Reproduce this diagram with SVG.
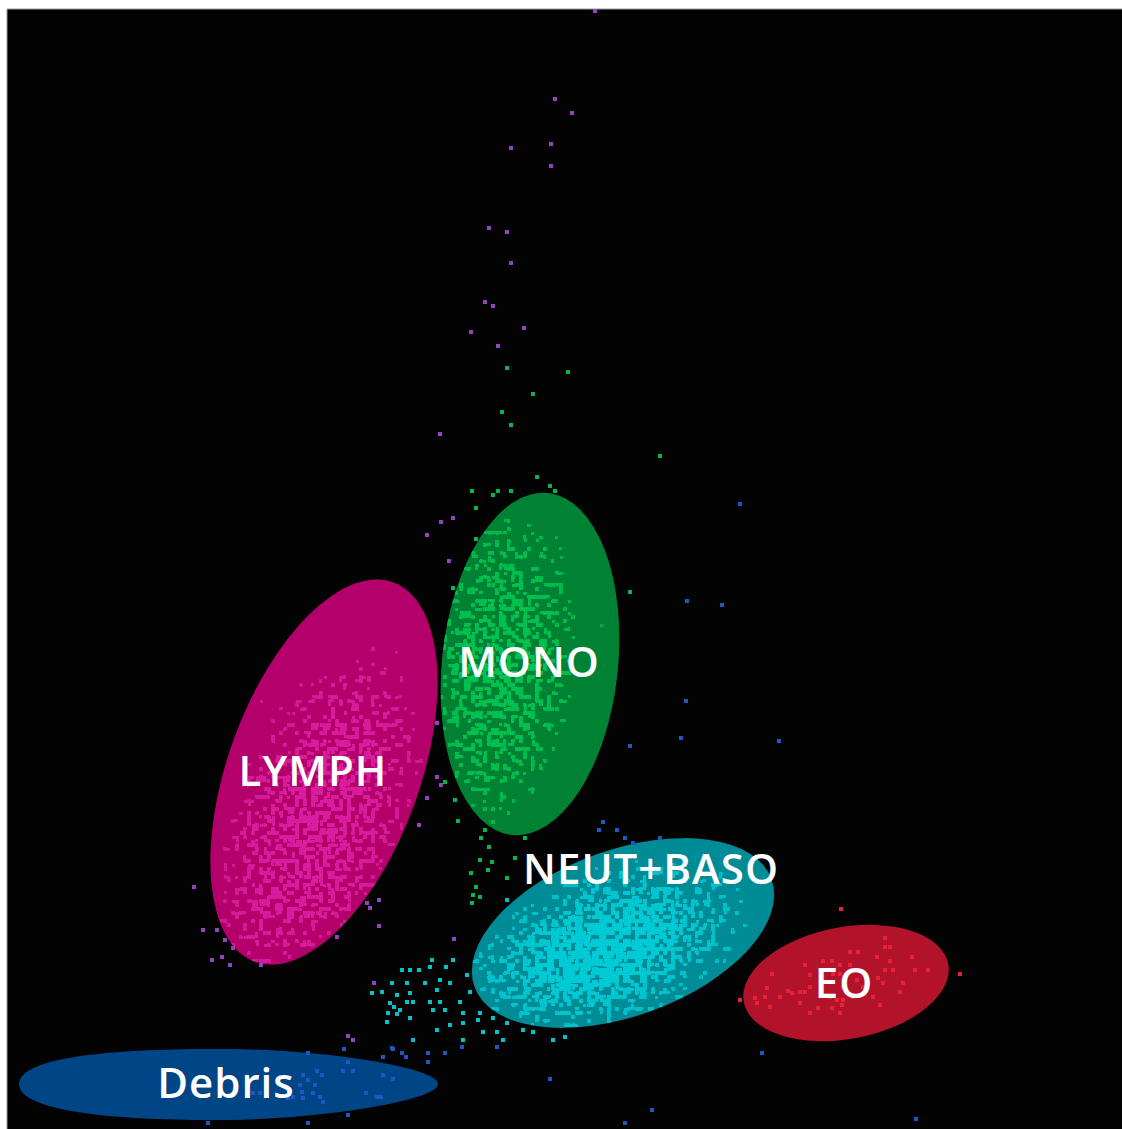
<svg xmlns="http://www.w3.org/2000/svg" width="1122" height="1129" viewBox="0 0 1122 1129">
<defs>
<style>
.lbl{font-family:"Open Sans","Noto Sans","Liberation Sans",sans-serif;font-weight:600;font-size:42px;fill:#ffffff;text-anchor:middle;letter-spacing:1px}
</style>
<filter id="spk" filterUnits="userSpaceOnUse" primitiveUnits="userSpaceOnUse" x="0" y="0" width="1122" height="1129" color-interpolation-filters="sRGB">
<feTurbulence type="fractalNoise" baseFrequency="0.17" numOctaves="1" seed="5" result="noise"/>
<feColorMatrix in="noise" type="matrix" values="0 0 0 0 0  0 0 0 0 0  0 0 0 0 0  1 0 0 0 0" result="nr"/>
<feComposite in="nr" in2="SourceAlpha" operator="arithmetic" k1="0" k2="5" k3="6" k4="-7.5" result="m"/>
<feComponentTransfer in="m" result="mask"><feFuncA type="discrete" tableValues="0 1"/></feComponentTransfer>
<feFlood flood-color="#000" flood-opacity="1" x="0" y="0" width="2" height="2" result="d"/>
<feOffset in="d" dx="0" dy="0" x="0" y="0" width="4" height="4" result="t"/>
<feTile in="t" x="0" y="0" width="1122" height="1129" result="grid"/>
<feComposite in="mask" in2="grid" operator="in" result="samp"/>
<feMorphology in="samp" operator="dilate" radius="1" result="blk"/>
<feColorMatrix in="SourceGraphic" type="matrix" values="1 0 0 0 0  0 1 0 0 0  0 0 1 0 0  0 0 0 0 1" result="solid"/>
<feComposite in="solid" in2="blk" operator="in" result="dots"/>
<feComposite in="dots" in2="SourceAlpha" operator="in"/>
</filter>
<radialGradient id="gL" cx="0.56" cy="0.62" r="0.52">
<stop offset="0" stop-color="#dc1fa3" stop-opacity="0.94"/>
<stop offset="0.45" stop-color="#dc1fa3" stop-opacity="0.89"/>
<stop offset="0.75" stop-color="#dc1fa3" stop-opacity="0.81"/>
<stop offset="1" stop-color="#dc1fa3" stop-opacity="0.66"/>
</radialGradient>
<radialGradient id="gM" cx="0.34" cy="0.52" r="0.5">
<stop offset="0" stop-color="#00c853" stop-opacity="0.92"/>
<stop offset="0.5" stop-color="#00c853" stop-opacity="0.88"/>
<stop offset="0.8" stop-color="#00c853" stop-opacity="0.8"/>
<stop offset="1" stop-color="#00c853" stop-opacity="0.66"/>
</radialGradient>
<radialGradient id="gN" cx="0.43" cy="0.55" r="0.5">
<stop offset="0" stop-color="#00ccd6" stop-opacity="1"/>
<stop offset="0.35" stop-color="#00ccd6" stop-opacity="0.97"/>
<stop offset="0.65" stop-color="#00ccd6" stop-opacity="0.88"/>
<stop offset="0.9" stop-color="#00ccd6" stop-opacity="0.79"/>
<stop offset="1" stop-color="#00ccd6" stop-opacity="0.66"/>
</radialGradient>
</defs>
<rect x="0" y="0" width="1122" height="1129" fill="#ffffff"/>
<rect x="7" y="9" width="1115" height="1120" fill="#030303"/>
<path d="M7,1129 V9 H1122" fill="none" stroke="#9a9a9a" stroke-width="1"/>

<g id="debris">
<path d="M19,1084 C19,1056 120,1048 230,1049 C330,1050 438,1068 438,1084 C438,1100 330,1118 230,1120 C120,1121 19,1112 19,1084 Z" fill="#004585"/>
</g>
<g id="lymph">
<ellipse cx="0" cy="0" rx="96" ry="202" transform="translate(324,772) rotate(20)" fill="#b4006b"/>
<g filter="url(#spk)"><ellipse cx="0" cy="0" rx="96" ry="202" transform="translate(324,772) rotate(20)" fill="url(#gL)"/></g>
</g>
<g id="mono">
<ellipse cx="0" cy="0" rx="88" ry="172" transform="translate(530,664) rotate(6)" fill="#008234"/>
<g filter="url(#spk)"><ellipse cx="0" cy="0" rx="88" ry="172" transform="translate(530,664) rotate(6)" fill="url(#gM)"/></g>
</g>
<g id="neutbaso">
<ellipse cx="0" cy="0" rx="158" ry="83" transform="translate(623,933) rotate(-20)" fill="#008c96"/>
<g filter="url(#spk)"><ellipse cx="0" cy="0" rx="158" ry="83" transform="translate(623,933) rotate(-20)" fill="url(#gN)"/></g>
</g>
<g id="eo">
<ellipse cx="0" cy="0" rx="104" ry="56" transform="translate(846,983) rotate(-10.5)" fill="#b3122b"/>
</g>

<g id="dots">
<path fill="#8e45bf" d="M593,9h4v4h-4z M553,97h4v4h-4z M570,111h4v4h-4z M509,146h4v4h-4z M549,142h4v4h-4z M549,164h4v4h-4z M487,226h4v4h-4z M505,230h4v4h-4z M509,261h4v4h-4z M483,300h4v4h-4z M491,304h4v4h-4z M469,330h4v4h-4z M522,326h4v4h-4z M496,344h4v4h-4z M438,432h4v4h-4z M439,520h4v4h-4z M451,516h4v4h-4z M425,533h4v4h-4z M447,559h4v4h-4z M435,775h4v4h-4z M439,783h4v4h-4z M425,796h4v4h-4z M192,885h4v4h-4z M201,928h4v4h-4z M215,928h4v4h-4z M223,938h4v4h-4z M231,946h4v4h-4z M210,958h4v4h-4z M220,955h4v4h-4z M228,963h4v4h-4z M259,963h4v4h-4z M335,935h4v4h-4z M365,901h4v4h-4z M368,906h4v4h-4z M377,898h4v4h-4z M377,924h4v4h-4z M417,823h4v4h-4z M435,721h4v4h-4z M452,937h4v4h-4z M372,981h4v4h-4z M346,1034h4v4h-4z M351,1038h4v4h-4z"/>
<path fill="#00b84c" d="M535,475h4v4h-4z M470,489h4v4h-4z M496,489h4v4h-4z M509,489h4v4h-4z M491,493h4v4h-4z M548,484h4v4h-4z M553,489h4v4h-4z M474,506h4v4h-4z M474,537h4v4h-4z M451,586h4v4h-4z M628,590h4v4h-4z M658,454h4v4h-4z M505,366h4v4h-4z M566,370h4v4h-4z M531,392h4v4h-4z M500,410h4v4h-4z M509,423h4v4h-4z M443,780h4v4h-4z M456,819h4v4h-4z M483,828h4v4h-4z M479,836h4v4h-4z M523,836h4v4h-4z M487,845h4v4h-4z M491,820h4v4h-4z M478,858h4v4h-4z M490,860h4v4h-4z M486,868h4v4h-4z M469,871h4v4h-4z M513,856h4v4h-4z M505,876h4v4h-4z M474,885h4v4h-4z M478,895h4v4h-4z M470,901h4v4h-4z M453,798h4v4h-4z M471,893h4v4h-4z"/>
<path fill="#00c4cc" d="M505,898h4v4h-4z M400,968h4v4h-4z M408,968h4v4h-4z M417,968h4v4h-4z M428,965h4v4h-4z M430,958h4v4h-4z M444,965h4v4h-4z M451,958h4v4h-4z M465,973h4v4h-4z M390,981h4v4h-4z M405,981h4v4h-4z M423,981h4v4h-4z M438,978h4v4h-4z M448,981h4v4h-4z M370,991h4v4h-4z M380,990h4v4h-4z M395,993h4v4h-4z M408,991h4v4h-4z M435,988h4v4h-4z M468,990h4v4h-4z M388,1001h4v4h-4z M405,1000h4v4h-4z M411,1000h4v4h-4z M428,1000h4v4h-4z M438,1000h4v4h-4z M458,1000h4v4h-4z M386,1011h4v4h-4z M398,1008h4v4h-4z M431,1008h4v4h-4z M443,1008h4v4h-4z M461,1011h4v4h-4z M478,1011h4v4h-4z M385,1020h4v4h-4z M408,1016h4v4h-4z M435,1028h4v4h-4z M448,1023h4v4h-4z M461,1021h4v4h-4z M476,1018h4v4h-4z M491,1016h4v4h-4z M505,1021h4v4h-4z M521,1028h4v4h-4z M481,1030h4v4h-4z M495,1030h4v4h-4z M531,1030h4v4h-4z M411,1038h4v4h-4z M461,1038h4v4h-4z M501,1038h4v4h-4z M551,1038h4v4h-4z M563,1035h4v4h-4z M395,1012h4v4h-4z M392,1005h4v4h-4z"/>
<path fill="#1f56c4" d="M738,502h4v4h-4z M685,599h4v4h-4z M720,603h4v4h-4z M684,699h4v4h-4z M679,736h4v4h-4z M777,739h4v4h-4z M628,744h4v4h-4z M601,820h4v4h-4z M597,828h4v4h-4z M615,828h4v4h-4z M623,836h4v4h-4z M631,841h4v4h-4z M658,836h4v4h-4z M760,1051h4v4h-4z M623,1121h4v4h-4z M650,1108h4v4h-4z M914,1117h4v4h-4z M548,1077h4v4h-4z M306,1051h4v4h-4z M342,1047h4v4h-4z M346,1060h4v4h-4z M341,1069h4v4h-4z M351,1069h4v4h-4z M381,1055h4v4h-4z M391,1047h4v4h-4z M400,1051h4v4h-4z M404,1055h4v4h-4z M426,1051h4v4h-4z M426,1060h4v4h-4z M443,1051h4v4h-4z M381,1073h4v4h-4z M391,1077h4v4h-4z M364,1091h4v4h-4z M375,1095h8v4h-8z M346,1113h4v4h-4z M306,1121h4v4h-4z M206,1121h4v4h-4z M301,1073h4v4h-4z M315,1069h4v4h-4z M320,1073h4v4h-4z M306,1078h4v4h-4z M313,1083h4v4h-4z M298,1083h4v4h-4z M300,1090h4v4h-4z M311,1091h4v4h-4z M318,1095h4v4h-4z M301,1096h4v4h-4z M321,1100h4v4h-4z M291,1095h4v4h-4z M286,1096h4v4h-4z M251,1091h4v4h-4z M258,1091h4v4h-4z M390,1046h4v4h-4z M460,1045h4v4h-4z M495,1045h4v4h-4z"/>
<path fill="#e8203a" d="M839,907h4v4h-4z M958,972h4v4h-4z M738,998h4v4h-4z M883,936h4v4h-4z M883,945h4v4h-4z M888,945h4v4h-4z M848,950h4v4h-4z M856,950h4v4h-4z M910,955h4v4h-4z M875,955h4v4h-4z M821,959h4v4h-4z M830,959h4v4h-4z M888,959h4v4h-4z M803,963h4v4h-4z M838,963h4v4h-4z M848,963h4v4h-4z M913,968h4v4h-4z M926,968h4v4h-4z M883,968h4v4h-4z M891,968h4v4h-4z M770,972h4v4h-4z M808,973h4v4h-4z M831,972h4v4h-4z M838,972h4v4h-4z M855,978h4v4h-4z M876,976h4v4h-4z M881,981h4v4h-4z M901,981h4v4h-4z M765,986h4v4h-4z M808,985h4v4h-4z M841,985h4v4h-4z M861,985h4v4h-4z M786,989h4v4h-4z M790,991h4v4h-4z M778,995h4v4h-4z M798,990h4v4h-4z M803,990h4v4h-4z M753,996h4v4h-4z M755,1001h4v4h-4z M763,995h4v4h-4z M828,995h4v4h-4z M835,998h4v4h-4z M841,998h4v4h-4z M851,995h4v4h-4z M871,995h4v4h-4z M898,990h4v4h-4z M768,1005h4v4h-4z M798,1001h4v4h-4z M816,1006h4v4h-4z M830,1006h4v4h-4z M840,1003h4v4h-4z M878,1003h4v4h-4z M808,1011h4v4h-4z M838,1011h4v4h-4z"/>
</g>

<g id="labels">
<text class="lbl" x="529" y="677">MONO</text>
<text class="lbl" x="313" y="786">LYMPH</text>
<text class="lbl" x="651" y="884">NEUT+BASO</text>
<text class="lbl" x="844" y="998">EO</text>
<text class="lbl" x="226" y="1098">Debris</text>
</g>
</svg>
